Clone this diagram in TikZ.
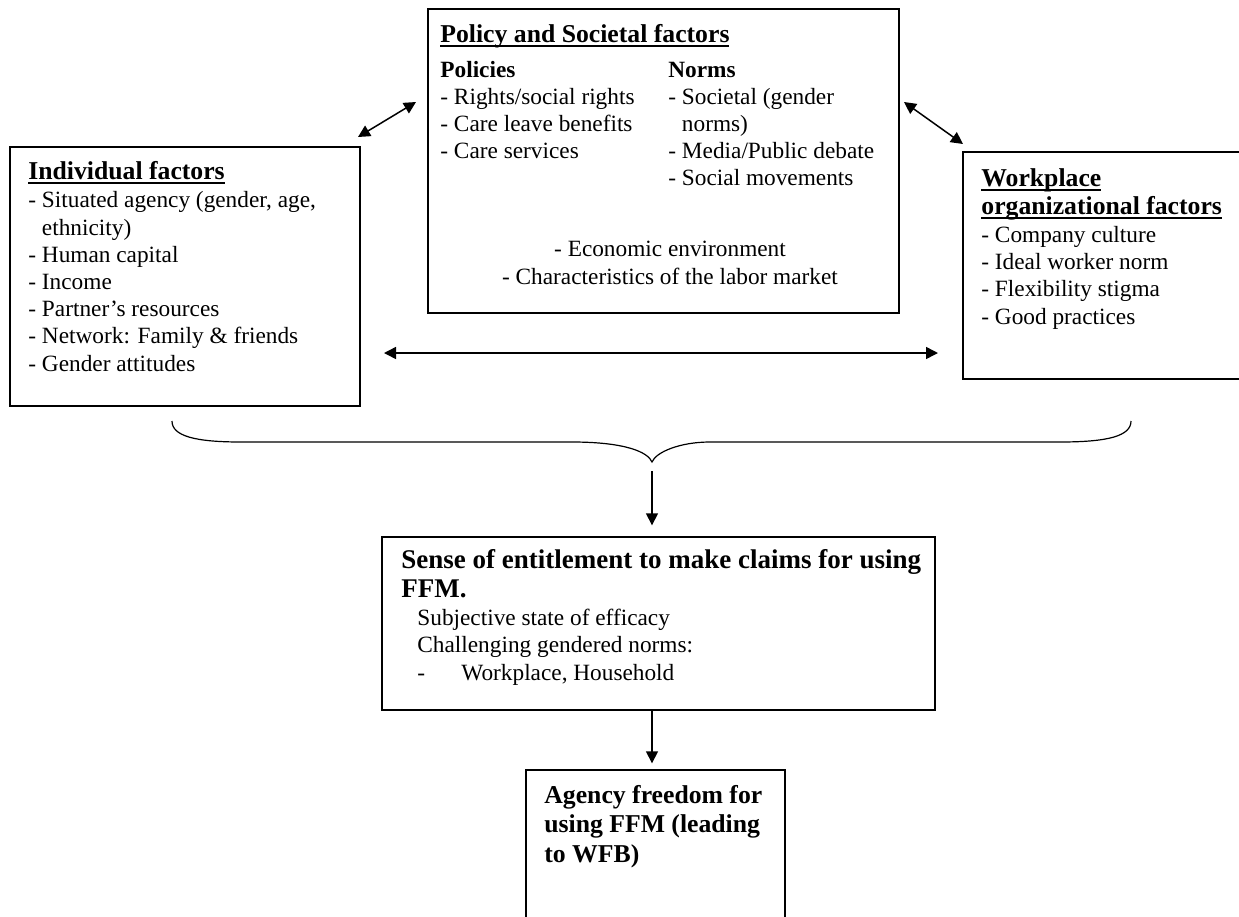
\documentclass[tikz,border=0pt]{standalone}
\usepackage{fontspec}
\setmainfont{Liberation Serif}
\usetikzlibrary{arrows.meta,fit,calc}
\newcommand\hul[1]{\setbox0\hbox{#1}\rlap{\rule[-2.4pt]{\wd0}{0.75pt}}\box0}
\begin{document}
\begin{tikzpicture}[x=0.5pt,y=-0.5pt,
  box/.style={draw, line width=0.7pt, inner sep=0pt},
  txt/.style={anchor=base west, inner sep=0pt, align=left, font=\fontsize{11.65pt}{13.6pt}\selectfont},
  sub/.style={anchor=base west, inner sep=0pt, align=left, font=\fontsize{11.65pt}{13.6pt}\selectfont\bfseries},
  hd/.style={anchor=base west, inner sep=0pt, align=left, font=\fontsize{12.85pt}{14pt}\selectfont\bfseries},
  arr/.style={line width=0.75pt, -{Triangle[length=6pt,width=6pt]}},
  dbl/.style={line width=0.75pt, {Triangle[length=6pt,width=6pt]}-{Triangle[length=6pt,width=6pt]}},
  brace/.style={line width=0.6pt}
]
\useasboundingbox (0,0) rectangle (1239,917);

% boxes
\node[box, fit={(428,9) (899,313)}] (pol) {};
\node[box, fit={(10,147) (360,406)}] (ind) {};
\node[box, fit={(963,152) (1262,379)}] (wrk) {};
\node[box, fit={(382,537) (935,710)}] (ent) {};
\node[box, fit={(526,770) (785,940)}] (agy) {};

% policy box text (multi-line nodes placed by their last baseline)
\node[hd] (polh) at (440,42) {\hul{Policy and Societal factors}};
\node[sub] (polp) at (440,77) {Policies};
\node[sub] (poln) at (668,77) {Norms};
\node[txt] (polpl) at (440,158.4) {- Rights/social rights\\- Care leave benefits\\- Care services};
\node[txt] (polnl) at (668,185.6) {- Societal (gender\\\hphantom{- }norms)\\- Media/Public debate\\- Social movements};
\node[txt, anchor=base, align=center] (pole) at (670,284) {- Economic environment\\- Characteristics of the labor market};

% individual box text
\node[hd] (indh) at (28,179) {\hul{Individual factors}};
\node[txt] (indl) at (28,371) {- Situated agency (gender, age,\\\hphantom{- }ethnicity)\\- Human capital\\- Income\\- Partner’s resources\\- Network: Family \& friends\\- Gender attitudes};

% workplace box text
\node[hd] (wrkh) at (981,214) {\hul{Workplace}\\\hul{organizational factors}};
\node[txt] (wrkl) at (981,324) {- Company culture\\- Ideal worker norm\\- Flexibility stigma\\- Good practices};

% entitlement box text
\node[hd, font=\fontsize{13.5pt}{14.5pt}\selectfont\bfseries] (enth) at (401,597) {Sense of entitlement to make claims for using\\FFM.};
\node[txt] (entl) at (417,680) {Subjective state of efficacy\\Challenging gendered norms:\\\makebox[22pt][l]{-}Workplace, Household};

% agency box text
\node[hd, font=\fontsize{12.85pt}{14.75pt}\selectfont\bfseries] (agyh) at (544,862) {Agency freedom for\\using FFM (leading\\to WFB)};

% brace
\coordinate (bl) at (172,421);
\coordinate (bt) at (652,462);
\coordinate (br) at (1131,421);
\draw[brace] (bl) .. controls (172,436) and (195,442) .. (241,442) -- (572,442)
  .. controls (625,442) and (648,452) .. (bt)
  .. controls (656,452) and (680,442) .. (710,442) -- (1060,442)
  .. controls (1108,442) and (1131,436) .. (br);

% connectors
\coordinate (d1a) at (358,137);
\coordinate (d1b) at (416,102);
\draw[dbl] (d1a) -- (d1b);
\coordinate (d2a) at (904,102);
\coordinate (d2b) at (963,144);
\draw[dbl] (d2a) -- (d2b);
\coordinate (ha) at (384,353);
\coordinate (hb) at (938,353);
\draw[dbl] (ha) -- (hb);
\draw[arr] ([yshift=-4.5pt]bt) -- ($(bt |- ent.north)+(0,-11)$);
\draw[arr] (bt |- ent.south) -- ($(bt |- agy.north)+(0,-6)$);
\end{tikzpicture}
\end{document}
